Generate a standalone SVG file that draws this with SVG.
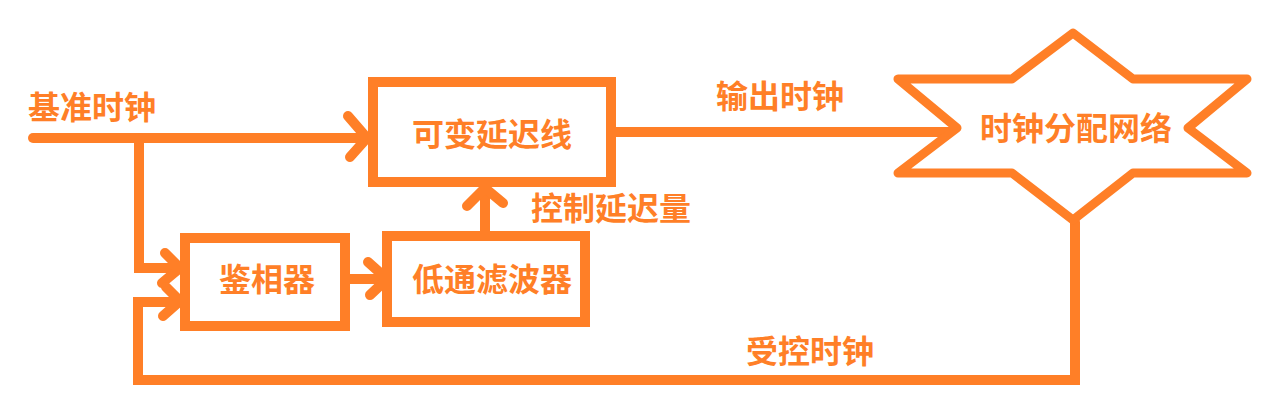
<svg xmlns="http://www.w3.org/2000/svg" width="1271" height="410" viewBox="0 0 1271 410">
<style>
.box{fill:#fff;stroke:#ff7f27;stroke-width:10}
.star{fill:#fff;stroke:#ff7f27;stroke-width:9;stroke-linejoin:round}
.ln{fill:none;stroke:#ff7f27;stroke-width:10;stroke-linecap:round;stroke-linejoin:miter}
.ah{fill:none;stroke:#ff7f27;stroke-width:10;stroke-linecap:round;stroke-linejoin:round}
.t{font-family:"Noto Sans CJK SC","Microsoft YaHei",sans-serif;font-size:32px;font-weight:bold;fill:#ff7f27;text-anchor:middle}
</style>
<rect width="1271" height="410" fill="#fff"/>
<g id="connectors">
  <path class="ln" d="M33,138 H366"/>
  <path class="ah" d="M348,116 L367,138 L350,157"/>
  <path class="ln" d="M139,138 V268 H179"/>
  <path class="ah" d="M165,253 L180,268 L162,283"/>
  <path class="ln" d="M1075,222 V380 H138 V302 H179"/>
  <path class="ah" d="M166,287 L180,301 L163,316"/>
  <path class="ln" d="M350,279 H386"/>
  <path class="ah" d="M368,262 L387,279 L370,295"/>
  <path class="ln" d="M485,231 V189"/>
  <path class="ah" d="M467,206 L485,188 L503,203"/>
  <path class="ln" d="M612,132 H955"/>
</g>
<g id="label-ref"><text class="t" x="92" y="119">基准时钟</text></g>
<g id="label-out"><text class="t" x="780" y="108">输出时钟</text></g>
<g id="label-ctrl"><text class="t" x="611" y="220">控制延迟量</text></g>
<g id="label-fb"><text class="t" x="810" y="363">受控时钟</text></g>
<g id="node-delay">
  <rect class="box" x="373" y="82" width="238" height="100"/>
  <text class="t" x="492" y="146">可变延迟线</text>
</g>
<g id="node-pd">
  <rect class="box" x="185" y="238" width="160" height="88"/>
  <text class="t" x="267" y="291">鉴相器</text>
</g>
<g id="node-lpf">
  <rect class="box" x="387" y="236" width="198" height="86"/>
  <text class="t" x="492" y="291">低通滤波器</text>
</g>
<g id="node-dist">
  <polygon class="star" points="1073,33 1133,79 1247,79 1188,128 1247,173 1133,173 1073,220 1012,173 898,173 957,128 898,79 1012,79"/>
  <text class="t" x="1076" y="140">时钟分配网络</text>
</g>
</svg>
